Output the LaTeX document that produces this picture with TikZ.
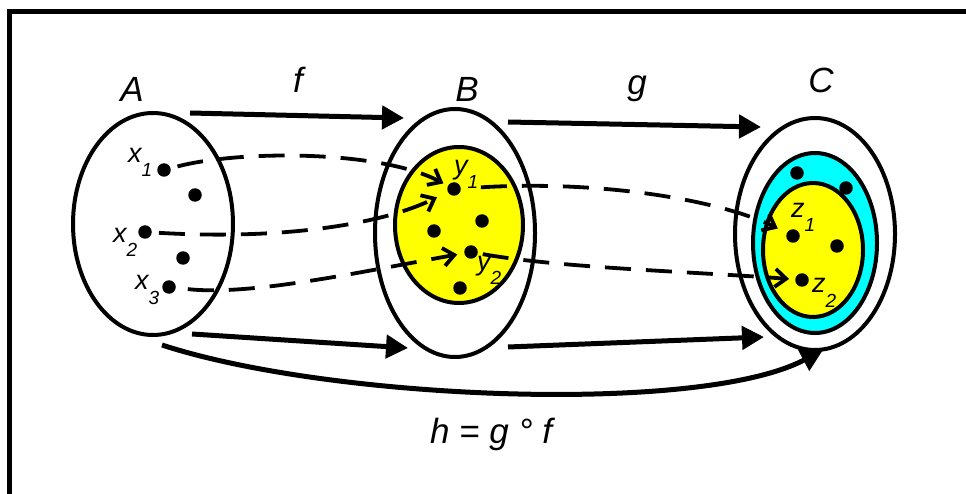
\documentclass[tikz,border=0pt]{standalone}
\usepackage{fontspec}
\setmainfont{Liberation Sans}
\usetikzlibrary{arrows.meta,shapes.geometric}
\definecolor{yel}{RGB}{255,255,0}
\definecolor{cya}{RGB}{0,255,255}
\newcommand{\sublab}[2]{{\fontsize{27}{27}\selectfont\itshape #1\raisebox{-14pt}{\fontsize{19}{19}\selectfont #2}}}
\begin{document}
\begin{tikzpicture}[x=1pt,y=-1pt,
  setshape/.style={draw, line width=4pt, ellipse, inner sep=0pt},
  dot/.style={circle, fill=black, inner sep=0pt, minimum size=13.5pt},
  big/.style={font=\fontsize{35}{40}\selectfont\itshape, inner sep=0pt},
  small/.style={inner sep=0pt, anchor=base west},
  mapsolid/.style={line width=5pt, -{Triangle[length=22pt,width=23pt]}},
  mapdash/.style={line width=3.8pt, dash pattern=on 26pt off 15pt, -{Straight Barb[length=11pt,width=18pt]}}]
\useasboundingbox (0,0) rectangle (966,494);
% frame
\draw[line width=4.5pt] (9.5,494) -- (9.5,11.3) -- (966,11.3);
% sets
\node[setshape, minimum width=160pt, minimum height=222pt] (A) at (153,224) {};
\node[setshape, minimum width=160pt, minimum height=248pt] (B) at (455,233) {};
\node[setshape, fill=yel, minimum width=128pt, minimum height=156pt] (By) at (459,225) {};
\node[setshape, minimum width=160pt, minimum height=232pt] (C) at (815,234) {};
\node[setshape, fill=cya, minimum width=124pt, minimum height=180pt] (Cc) at (815,243) {};
\node[setshape, fill=yel, minimum width=100pt, minimum height=134pt] (Cy) at (813,250) {};
% set names
\node[big, anchor=base] (lA) at (132,102) {A};
\node[big, anchor=base] (lB) at (467,102) {B};
\node[big, anchor=base] (lC) at (821,93) {C};
\node[big, anchor=base] (lf) at (298,93) {f};
\node[big, anchor=base] (lg) at (637,95) {g};
\node[big, anchor=base] (lh) at (491,443) {h = g ° f};
% dots in A
\node[dot] (x1) at (164,170) {};
\node[dot] (a1) at (195,195) {};
\node[dot] (x2) at (145,232) {};
\node[dot] (a2) at (183,258) {};
\node[dot] (x3) at (169,287) {};
% dots in B
\node[dot] (y1) at (454,189) {};
\node[dot] (b1) at (482,221) {};
\node[dot] (b2) at (434,231) {};
\node[dot] (y2) at (471,252) {};
\node[dot] (b3) at (460,288) {};
% dots in C
\node[dot] (c1) at (797,173) {};
\node[dot] (c2) at (846,188) {};
\node[dot] (z1) at (793,236) {};
\node[dot] (c3) at (837,246) {};
\node[dot] (z2) at (802,280) {};
% element labels
\node[small] (lx1) at (128,163) {\sublab{x}{1}};
\node[small] (lx2) at (113,243) {\sublab{x}{2}};
\node[small] (lx3) at (135,290) {\sublab{x}{3}};
\node[small] (ly1) at (454,175) {\sublab{y}{1}};
\node[small] (ly2) at (477,270) {\sublab{y}{2}};
\node[small] (lz1) at (791,218) {\sublab{z}{1}};
\node[small] (lz2) at (812,293) {\sublab{z}{2}};
% solid mapping arrows
\coordinate (f1s) at (190,113);
\coordinate (f1e) at (404,118);
\coordinate (f2s) at (192,334);
\coordinate (f2e) at (408,348);
\coordinate (g1s) at (508,122);
\coordinate (g1e) at (761,127);
\coordinate (g2s) at (508,347);
\coordinate (g2e) at (764,337);
\coordinate (hs) at (162,345);
\coordinate (he) at (823,350);
\draw[mapsolid] (f1s) -- (f1e);
\draw[mapsolid] (f2s) -- (f2e);
\draw[mapsolid] (g1s) -- (g1e);
\draw[mapsolid] (g2s) -- (g2e);
\draw[mapsolid] (hs) .. controls (330,400) and (700,415) .. (he);
% dashed element arrows
\draw[mapdash, shorten <=7pt, shorten >=5pt] (x1) .. controls (240,150) and (380,150) .. (y1);
\draw[mapdash, shorten <=7pt, shorten >=12pt] (x2) .. controls (280,240) and (380,225) .. (y1);
\draw[mapdash, shorten <=12pt, shorten >=7pt] (x3) .. controls (250,296) and (360,272) .. (y2);
\draw[mapdash, shorten <=20pt, shorten >=10pt] (y1) .. controls (600,180) and (720,200) .. (z1);
\draw[mapdash, shorten <=5pt, shorten >=6pt] (y2) .. controls (560,268) and (700,272) .. (z2);
\end{tikzpicture}
\end{document}
